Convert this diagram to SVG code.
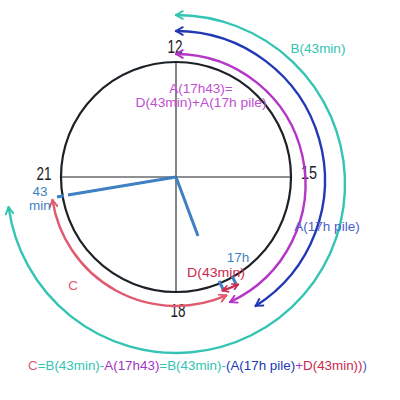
<svg xmlns="http://www.w3.org/2000/svg" width="400" height="400" viewBox="0 0 400 400">
<style>
text{font-family:"Liberation Sans",Arial,sans-serif}
.arc{fill:none;stroke-width:2.4;stroke-linecap:round}
.num{font-size:18px;fill:#1c2126;text-anchor:middle}
.lbl{font-size:13.5px;text-anchor:middle}
.hand{stroke:#3f7fc4;stroke-width:3;stroke-linecap:butt}
</style>
<defs>
<marker id="mTeal" viewBox="0 0 10 10" refX="8.5" refY="5" markerWidth="4" markerHeight="4" orient="auto-start-reverse" markerUnits="strokeWidth"><path d="M1.5 1 L8.5 5 L1.5 9" fill="none" stroke="#33c4b3" stroke-width="2" stroke-linecap="round" stroke-linejoin="round"/></marker>
<marker id="mBlue" viewBox="0 0 10 10" refX="8.5" refY="5" markerWidth="4" markerHeight="4" orient="auto-start-reverse" markerUnits="strokeWidth"><path d="M1.5 1 L8.5 5 L1.5 9" fill="none" stroke="#2238b5" stroke-width="2" stroke-linecap="round" stroke-linejoin="round"/></marker>
<marker id="mMag" viewBox="0 0 10 10" refX="8.5" refY="5" markerWidth="4" markerHeight="4" orient="auto-start-reverse" markerUnits="strokeWidth"><path d="M1.5 1 L8.5 5 L1.5 9" fill="none" stroke="#b535c8" stroke-width="2" stroke-linecap="round" stroke-linejoin="round"/></marker>
<marker id="mRed" viewBox="0 0 10 10" refX="8.5" refY="5" markerWidth="4" markerHeight="4" orient="auto-start-reverse" markerUnits="strokeWidth"><path d="M1.5 1 L8.5 5 L1.5 9" fill="none" stroke="#e05a70" stroke-width="2" stroke-linecap="round" stroke-linejoin="round"/></marker>
<marker id="mDark" viewBox="0 0 10 10" refX="8.5" refY="5" markerWidth="3.2" markerHeight="3.2" orient="auto-start-reverse" markerUnits="strokeWidth"><path d="M1.5 1 L8.5 5 L1.5 9" fill="none" stroke="#cc2a4e" stroke-width="2.2" stroke-linecap="round" stroke-linejoin="round"/></marker>
</defs>
<rect width="400" height="400" fill="#ffffff"/>
<g id="clock">
<circle cx="176" cy="177" r="115" fill="none" stroke="#1c2126" stroke-width="2.2"/>
<line x1="176" y1="62" x2="176" y2="292" stroke="#1c2126" stroke-width="1.1"/>
<line x1="61" y1="177" x2="291" y2="177" stroke="#1c2126" stroke-width="1.1"/>
<text class="num" x="175" y="53" textLength="15" lengthAdjust="spacingAndGlyphs">12</text>
<text class="num" x="309" y="179" textLength="16" lengthAdjust="spacingAndGlyphs">15</text>
<text class="num" x="178" y="317" textLength="15" lengthAdjust="spacingAndGlyphs">18</text>
<text class="num" x="44" y="180" textLength="15" lengthAdjust="spacingAndGlyphs">21</text>
</g>
<g id="hands">
<line class="hand" x1="57" y1="197" x2="64" y2="195.8"/>
<line class="hand" x1="68" y1="195.1" x2="176" y2="177"/>
<line class="hand" x1="176" y1="177" x2="198" y2="236"/>
<line class="hand" x1="219" y1="281" x2="223" y2="289" stroke-width="2.5"/>
<line class="hand" x1="232" y1="276" x2="236" y2="284" stroke-width="2.5"/>
</g>
<g id="connectors">
<path id="arcB" class="arc" stroke="#33c4b3" d="M176 15 A169 169 0 1 1 8.6 207.2" marker-start="url(#mTeal)" marker-end="url(#mTeal)"/>
<path id="arcA" class="arc" stroke="#2238b5" d="M176 31 A149 149 0 0 1 255.6 305.9" marker-start="url(#mBlue)" marker-end="url(#mBlue)"/>
<path id="arcA43" class="arc" stroke="#b535c8" d="M176 54 A130 130 0 0 1 230 302" marker-start="url(#mMag)" marker-end="url(#mMag)"/>
<path id="arcC" class="arc" stroke="#e05a70" d="M52.5 200 A125 125 0 0 0 226.3 295.4" marker-start="url(#mRed)" marker-end="url(#mRed)"/>
<path id="arcD" class="arc" stroke="#cc2a4e" stroke-width="2.6" d="M222.5 290.5 A120 120 0 0 0 238 284.5" marker-start="url(#mDark)" marker-end="url(#mDark)"/>
</g>
<g id="labels">
<text class="lbl" x="201" y="93" fill="#c04fd2" font-size="13">A(17h43)=</text>
<text class="lbl" x="201" y="107" fill="#c04fd2" font-size="13" textLength="131" lengthAdjust="spacingAndGlyphs">D(43min)+A(17h pile)</text>
<text class="lbl" x="318" y="53" fill="#33c4b3" font-size="14">B(43min)</text>
<text class="lbl" x="327" y="231" fill="#4a62c8">A(17h pile)</text>
<text class="lbl" x="216" y="277" fill="#cc2a4e" font-size="14" textLength="58" lengthAdjust="spacingAndGlyphs">D(43min)</text>
<text class="lbl" x="238" y="262" fill="#3f7fc4" font-size="13.5">17h</text>
<text class="lbl" x="40" y="196" fill="#3f7fc4" font-size="13">43</text>
<text class="lbl" x="40" y="210" fill="#3f7fc4" font-size="13">min</text>
<text class="lbl" x="73" y="290" fill="#e05a70" font-size="14">C</text>
<text x="28" y="370" font-size="13" textLength="339" lengthAdjust="spacingAndGlyphs"><tspan fill="#e05a70">C</tspan><tspan fill="#33c4b3">=B(43min)-</tspan><tspan fill="#a335c6">A(17h43)</tspan><tspan fill="#33c4b3">=B(43min)-</tspan><tspan fill="#2238b5">(A(17h pile)</tspan><tspan fill="#b535c8">+</tspan><tspan fill="#cc2a4e">D(43min))</tspan><tspan fill="#4a62c8">)</tspan></text>
</g>
</svg>
